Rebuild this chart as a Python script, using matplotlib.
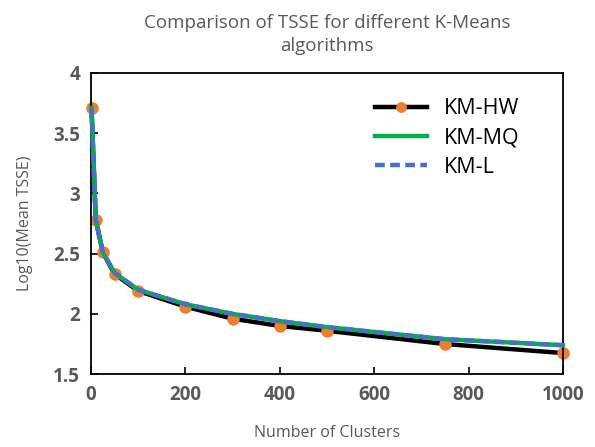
import numpy as np
import matplotlib
matplotlib.use("Agg")
import matplotlib.pyplot as plt

# cluster counts and log10 of mean TSSE
clusters = [1, 10, 25, 50, 100, 200, 300, 400, 500, 750, 1000]
km_hw = [3.71, 2.78, 2.51, 2.33, 2.19, 2.06, 1.96, 1.90, 1.86, 1.75, 1.675]
km_mq = [3.71, 2.78, 2.51, 2.34, 2.20, 2.08, 2.00, 1.94, 1.89, 1.79, 1.74]
km_l = [3.71, 2.78, 2.51, 2.34, 2.20, 2.08, 2.00, 1.94, 1.89, 1.79, 1.74]

plt.rcParams['font.family'] = ['Open Sans', 'DejaVu Sans']
grey = '#595959'

fig = plt.figure(figsize=(5.95, 4.47), dpi=100)
ax = fig.add_axes([0.153, 0.163, 0.793, 0.674])

ax.plot(clusters, km_hw, color='black', lw=3.2, marker='o', ms=8,
        mfc='#ED7D31', mec='#ED7D31', label='KM-HW', zorder=2, clip_on=False)
ax.plot(clusters, km_mq, color='#00B050', lw=3.2, label='KM-MQ', zorder=3,
        clip_on=False)
ax.plot(clusters, km_l, color='#4472C4', lw=3.2, ls=(0, (2.2, 1.2)),
        label='KM-L', zorder=4, clip_on=False)

ax.set_xlim(0, 1000)
ax.set_ylim(1.5, 4)
ax.set_xticks([0, 200, 400, 600, 800, 1000])
ax.set_yticks([1.5, 2, 2.5, 3, 3.5, 4])
ax.set_yticklabels(['1.5', '2', '2.5', '3', '3.5', '4'])
ax.tick_params(direction='in', length=5, width=1.2, labelsize=13.5,
               labelcolor=grey, pad=8)
for lab in ax.get_xticklabels() + ax.get_yticklabels():
    lab.set_fontweight('bold')
for sp in ax.spines.values():
    sp.set_linewidth(1.3)

ax.set_title('Comparison of TSSE for different K-Means\nalgorithms',
             fontsize=13.5, color=grey, pad=16, linespacing=1.35)
ax.set_xlabel('Number of Clusters', fontsize=11.5, color=grey, labelpad=14)
ax.set_ylabel('Log10(Mean TSSE)', fontsize=11.5, color=grey, labelpad=14)

leg = ax.legend(loc='upper right', bbox_to_anchor=(0.95, 0.98), frameon=False,
                fontsize=15.5, handlelength=2.4, labelspacing=0.38,
                handletextpad=0.8, markerscale=0.85)

fig.savefig('out.png', dpi=100)
